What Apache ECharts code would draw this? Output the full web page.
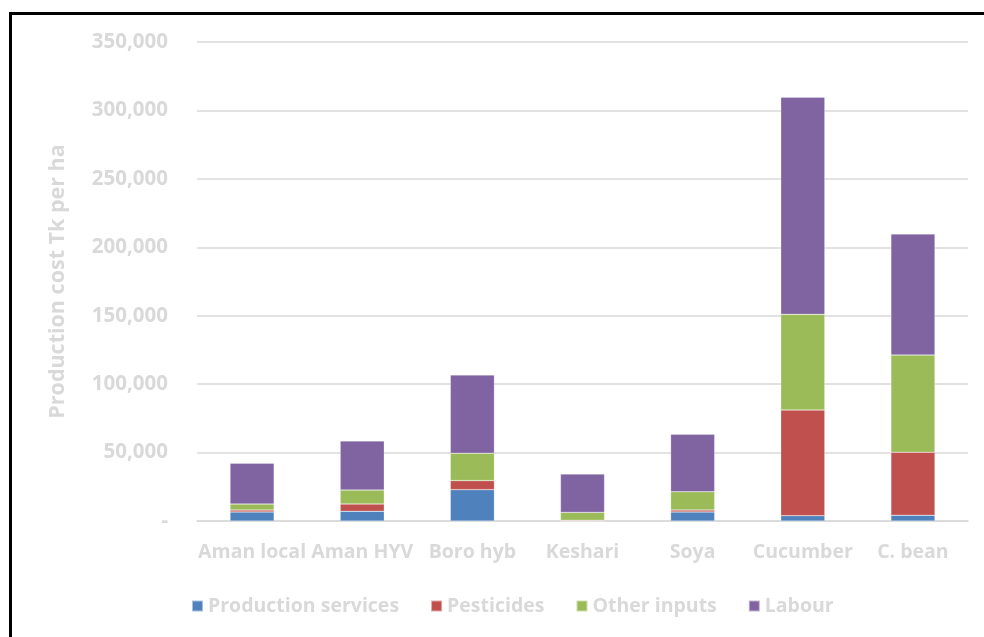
<!DOCTYPE html>
<html>
<head>
<meta charset="utf-8">
<script src="https://cdn.jsdelivr.net/npm/echarts@6/dist/echarts.min.js"></script>
<style>
  html, body { margin: 0; padding: 0; background: #fff; }
  #main { width: 984px; height: 637px; }
</style>
</head>
<body>
<div id="main"></div>
<script>
// crops and cost items
var crops = ['Aman local', 'Aman HYV', 'Boro hyb', 'Keshari', 'Soya', 'Cucumber', 'C. bean'];
var seriesNames = ['Production services', 'Pesticides', 'Other inputs', 'Labour'];
var colors = ['#4f81bd', '#c0504d', '#9bbb59', '#8064a2'];

// values in Tk per ha
var productionServices = [6600, 7100, 22900, 0, 6600, 3900, 4200];
var pesticides = [1400, 5300, 6600, 500, 1400, 77200, 46000];
var otherInputs = [4400, 10200, 20000, 5800, 13400, 69900, 71100];
var labour = [29800, 35900, 57200, 28000, 41900, 158600, 88400];
var allValues = [productionServices, pesticides, otherInputs, labour];

var labelFont = '"Open Sans", sans-serif';
var gray = '#d9d9d9';

var myChart = echarts.init(document.getElementById('main'));

var series = seriesNames.map(function (name, i) {
    return {
        name: name,
        type: 'bar',
        stack: 'total',
        barWidth: '40%',
        itemStyle: { color: colors[i], borderColor: 'rgba(255,255,255,0.5)', borderWidth: 0.5 },
        data: allValues[i]
    };
});

myChart.setOption({
    animation: false,
    graphic: [{
        type: 'rect',
        shape: { x: 10.5, y: 13.5, width: 1000, height: 700 },
        style: { fill: 'none', stroke: '#000', lineWidth: 3 },
        silent: true
    }],
    legend: {
        bottom: 16,
        left: 186,
        itemWidth: 11,
        itemHeight: 11,
        itemGap: 31,
        icon: 'rect',
        textStyle: { color: gray, fontFamily: labelFont, fontWeight: 'bold', fontSize: 19.5, letterSpacing: -0.9 },
        data: seriesNames
    },
    grid: {
        left: 197,
        right: 16,
        top: 42,
        bottom: 116
    },
    xAxis: {
        type: 'category',
        data: crops,
        axisLine: { lineStyle: { color: '#d9d9d9', width: 1.5 } },
        axisTick: { show: false },
        axisLabel: {
            color: gray, fontFamily: labelFont, fontWeight: 'bold', fontSize: 19.5,
            letterSpacing: -0.9, margin: 21, interval: 0
        }
    },
    yAxis: {
        type: 'value',
        min: 0,
        max: 350000,
        interval: 50000,
        name: 'Production cost Tk per ha',
        nameLocation: 'middle',
        nameGap: 128,
        nameTextStyle: { color: gray, fontFamily: labelFont, fontWeight: 'bold', fontSize: 21.5, letterSpacing: -0.8 },
        axisLine: { show: false },
        axisTick: { show: false },
        splitLine: { lineStyle: { color: '#d9d9d9', width: 1.5 } },
        axisLabel: {
            color: gray, fontFamily: labelFont, fontWeight: 'bold', fontSize: 20.5,
            letterSpacing: -0.9, margin: 29,
            formatter: function (v) {
                return v === 0 ? '-' : v.toLocaleString('en-US');
            }
        }
    },
    series: series
});
</script>
</body>
</html>
